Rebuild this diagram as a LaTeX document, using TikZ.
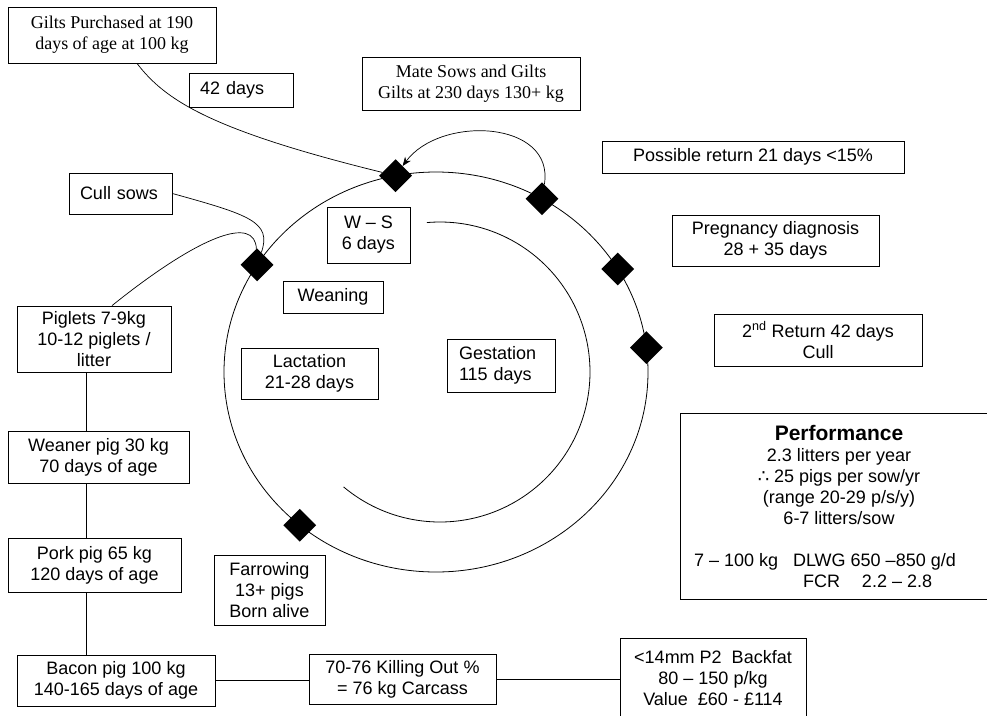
\documentclass[tikz,border=0pt]{standalone}
\usepackage{fontspec}
\setmainfont{Liberation Sans}
\newfontfamily\tnr{Liberation Serif}
\newfontfamily\djv{DejaVu Sans}
\usetikzlibrary{shapes.geometric,arrows.meta,calc}
\begin{document}
\begin{tikzpicture}[x=1pt,y=-1pt,
  box/.style={draw,line width=0.8pt,inner sep=0pt,align=center,font=\fontsize{18}{21}\selectfont},
  tbox/.style={box,font=\tnr\fontsize{18}{21}\selectfont},
  dia/.style={diamond,fill=black,inner sep=0pt,minimum width=33pt,minimum height=33pt},
  conn/.style={line width=0.7pt},
  ring/.style={line width=0.8pt}]

\useasboundingbox (0,0) rectangle (987,715);
\fill[white] (0,0) rectangle (987,715);

% cycle
\draw[ring] (436,372) ellipse [x radius=212pt, y radius=200pt];
\draw[ring] plot[domain=95:-130,samples=120,smooth] ({440+150*cos(\x)},{372-150*sin(\x)});

% stage markers
\node[dia] (d1) at ({436+212*cos(101)},{372-200*sin(101)}) {};
\node[dia] (d2) at ({436+212*cos(60)},{372-200*sin(60)}) {};
\node[dia] (d3) at ({436+212*cos(31)},{372-200*sin(31)}) {};
\node[dia] (d4) at ({436+212*cos(7)},{372-200*sin(7)}) {};
\node[dia] (d5) at ({436+212*cos(147.6)},{372-200*sin(147.6)}) {};
\node[dia] (d6) at ({436+212*cos(230)},{372-200*sin(230)}) {};

% boxes
\node[tbox,minimum width=208pt,minimum height=56pt] (gilts) at (112,35) {Gilts Purchased at 190\\days of age at 100 kg};
\node[box,minimum width=104pt,minimum height=34pt,text width=82pt,align=left] (d42) at (241,90) {42 days};
\node[tbox,minimum width=218pt,minimum height=53pt] (mate) at (471,83.5) {Mate Sows and Gilts\\Gilts at 230 days 130+ kg};
\node[box,minimum width=302pt,minimum height=32pt] (ret1) at (753,157) {Possible return 21 days <15\%};
\node[box,minimum width=207pt,minimum height=51pt] (preg) at (775.5,240.5) {Pregnancy diagnosis\\28 + 35 days};
\node[box,minimum width=208pt,minimum height=52pt] (ret2) at (818,340) {2\textsuperscript{nd} Return 42 days\\Cull};
\node[box,minimum width=318pt,minimum height=186pt] (perf) at (839,506) {{\fontsize{21}{21}\selectfont\bfseries Performance}\\2.3 litters per year\\{\djv ∴} 25 pigs per sow/yr\\(range 20-29 p/s/y)\\6-7 litters/sow\\[21pt]\makebox[290pt][l]{7 – 100 kg\hspace{15pt}DLWG 650 –850 g/d}\\\makebox[290pt][l]{\hspace{109pt}FCR\hspace{22pt}2.2 – 2.8}};
\node[box,minimum width=103pt,minimum height=41pt,text width=81pt,align=left] (cull) at (120.5,193.5) {Cull sows};
\node[box,minimum width=83pt,minimum height=56pt] (ws) at (368.5,235) {W – S\\6 days};
\node[box,minimum width=100pt,minimum height=32pt] (wean) at (333,297) {Weaning};
\node[box,minimum width=137pt,minimum height=51pt] (lact) at (309.5,373.5) {Lactation\\21-28 days};
\node[box,minimum width=108pt,minimum height=53pt,text width=84pt,align=left] (gest) at (501,365.5) {Gestation\\115 days};
\node[box,minimum width=154pt,minimum height=66pt] (piglets) at (94,339) {Piglets 7-9kg\\10-12 piglets /\\litter};
\node[box,minimum width=181pt,minimum height=52pt] (weaner) at (98.5,457) {Weaner pig 30 kg\\70 days of age};
\node[box,minimum width=173pt,minimum height=54pt] (pork) at (94.5,565) {Pork pig 65 kg\\120 days of age};
\node[box,minimum width=111pt,minimum height=70pt] (farrow) at (269.5,590) {Farrowing\\13+ pigs\\Born alive};
\node[box,minimum width=198pt,minimum height=51pt] (bacon) at (116,680.5) {Bacon pig 100 kg\\140-165 days of age};
\node[box,minimum width=187pt,minimum height=50pt] (kill) at (402.5,679) {70-76 Killing Out \%\\= 76 kg Carcass};
\node[box,minimum width=186pt,minimum height=80pt] (fat) at (713,678) {<14mm P2\ \ Backfat\\80 – 150 p/kg\\Value\ \ £60 - £114};

% connectors
\draw[conn] ([xshift=25pt]gilts.south) .. controls (165,100) and (210,130) .. (d1);
\draw[conn,-{Stealth[length=9pt,width=7pt]}] (d2) .. controls (555,120) and (440,115) .. (d1);
\draw[conn] (cull.east) .. controls (250,215) and (272,222) .. (d5);
\draw[conn] ([xshift=18pt]piglets.north) .. controls (200,235) and (255,215) .. (d5);
\draw[conn] ([xshift=-8pt]piglets.south) -- ([xshift=-8pt]piglets.south |- weaner.north);
\draw[conn] ([xshift=-12.5pt]weaner.south) -- ([xshift=-12.5pt]weaner.south |- pork.north);
\draw[conn] ([xshift=-8.5pt]pork.south) -- ([xshift=-8.5pt]pork.south |- bacon.north);
\draw[conn] (bacon.east) -- (bacon.east -| kill.west);
\draw[conn] (kill.east) -- (kill.east -| fat.west);
\end{tikzpicture}
\end{document}
